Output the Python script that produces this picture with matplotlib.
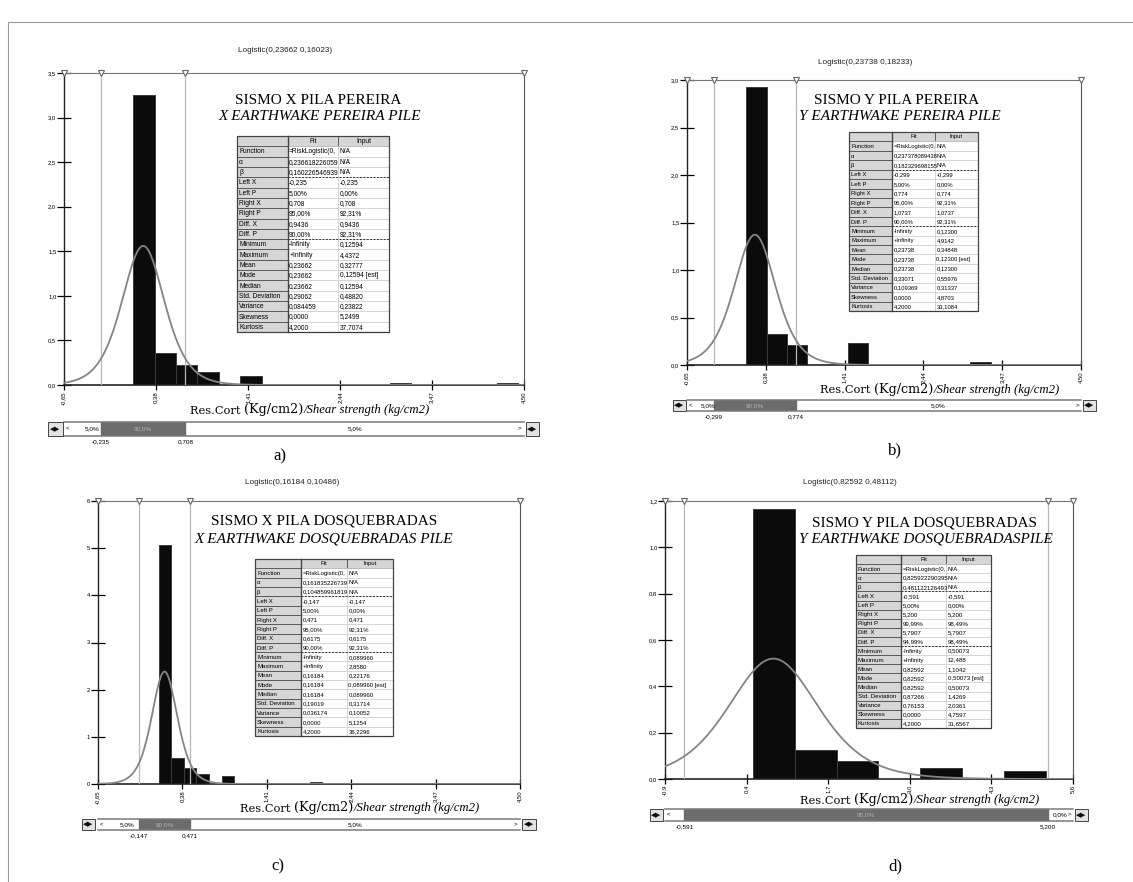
import numpy as np
import matplotlib.pyplot as plt
from matplotlib.patches import Rectangle
from matplotlib.offsetbox import TextArea, HPacker, AnnotationBbox

# ---- data ----
row_labels = ["Function", "α", "β", "Left X", "Left P", "Right X", "Right P", "Diff. X", "Diff. P",
              "Minimum", "Maximum", "Mean", "Mode", "Median", "Std. Deviation", "Variance",
              "Skewness", "Kurtosis"]

# a) sismo X pila Pereira
fit_a = (0.23662, 0.16023)
marks_a = (-0.235, 0.708)
hist_min_a, hist_max_a = 0.12594, 4.4372
heights_a = [3.25, 0.356, 0.22, 0.142, 0, 0.105, 0, 0, 0, 0, 0, 0, 0.026, 0, 0, 0, 0, 0.02]
xticks_a = [-0.65, 0.38, 1.41, 2.44, 3.47, 4.50]
xticklabels_a = ["-0,65", "0,38", "1,41", "2,44", "3,47", "4,50"]
yticks_a = [0, 0.5, 1.0, 1.5, 2.0, 2.5, 3.0, 3.5]
yticklabels_a = ["0,0", "0,5", "1,0", "1,5", "2,0", "2,5", "3,0", "3,5"]
fitcol_a = ["=RiskLogistic(0,", "0,236618226059", "0,160226546939", "-0,235", "5,00%", "0,708",
            "95,00%", "0,9436", "90,00%", "-Infinity", "+Infinity", "0,23662", "0,23662", "0,23662",
            "0,29062", "0,084459", "0,0000", "4,2000"]
inputcol_a = ["N/A", "N/A", "N/A", "-0,235", "0,00%", "0,708", "92,31%", "0,9436", "92,31%",
              "0,12594", "4,4372", "0,32777", "0,12594 [est]", "0,12594", "0,48820", "0,23822",
              "5,2499", "37,7074"]
slider_a = ["5,0%", "90,0%", "5,0%"]
marklabels_a = ["-0,235", "0,708"]

# b) sismo Y pila Pereira
fit_b = (0.23738, 0.18233)
marks_b = (-0.299, 0.774)
hist_min_b, hist_max_b = 0.12300, 4.9142
heights_b = [2.93, 0.326, 0.207, 0, 0, 0.228, 0, 0, 0, 0, 0, 0.035, 0, 0, 0, 0, 0, 0]
xticks_b = [-0.65, 0.38, 1.41, 2.44, 3.47, 4.50]
xticklabels_b = ["-0,65", "0,38", "1,41", "2,44", "3,47", "4,50"]
yticks_b = [0, 0.5, 1.0, 1.5, 2.0, 2.5, 3.0]
yticklabels_b = ["0,0", "0,5", "1,0", "1,5", "2,0", "2,5", "3,0"]
fitcol_b = ["=RiskLogistic(0,", "0,237378089438", "0,182329698155", "-0,299", "5,00%", "0,774",
            "95,00%", "1,0737", "90,00%", "-Infinity", "+Infinity", "0,23738", "0,23738", "0,23738",
            "0,33071", "0,109369", "0,0000", "4,2000"]
inputcol_b = ["N/A", "N/A", "N/A", "-0,299", "0,00%", "0,774", "92,31%", "1,0737", "92,31%",
              "0,12300", "4,9142", "0,34848", "0,12300 [est]", "0,12300", "0,55976", "0,31337",
              "4,8703", "33,1084"]
slider_b = ["5,0%", "90,0%", "5,0%"]
marklabels_b = ["-0,299", "0,774"]

# c) sismo X pila Dosquebradas
fit_c = (0.16184, 0.10486)
marks_c = (-0.147, 0.471)
hist_min_c, hist_max_c = 0.08996, 2.8580
heights_c = [5.06, 0.56, 0.34, 0.21, 0, 0.162, 0, 0, 0, 0, 0, 0, 0.05, 0, 0, 0, 0, 0.02]
xticks_c = [-0.65, 0.38, 1.41, 2.44, 3.47, 4.50]
xticklabels_c = ["-0,65", "0,38", "1,41", "2,44", "3,47", "4,50"]
yticks_c = [0, 1, 2, 3, 4, 5, 6]
yticklabels_c = ["0", "1", "2", "3", "4", "5", "6"]
fitcol_c = ["=RiskLogistic(0,", "0,161835226739", "0,104859961819", "-0,147", "5,00%", "0,471",
            "95,00%", "0,6175", "90,00%", "-Infinity", "+Infinity", "0,16184", "0,16184", "0,16184",
            "0,19019", "0,036174", "0,0000", "4,2000"]
inputcol_c = ["N/A", "N/A", "N/A", "-0,147", "0,00%", "0,471", "92,31%", "0,6175", "92,31%",
              "0,089960", "2,8580", "0,22176", "0,089960 [est]", "0,089960", "0,31714", "0,10052",
              "5,1254", "36,2296"]
slider_c = ["5,0%", "90,0%", "5,0%"]
marklabels_c = ["-0,147", "0,471"]

# d) sismo Y pila Dosquebradas (only the first 7 of 18 bins fall inside the axis)
fit_d = (0.82592, 0.48112)
marks_d = (-0.591, 5.200)
hist_min_d, hist_max_d = 0.50073, 12.488
heights_d = [1.167, 0.126, 0.079, 0, 0.049, 0.003, 0.034]
xticks_d = [-0.9, 0.4, 1.7, 3.0, 4.3, 5.6]
xticklabels_d = ["-0,9", "0,4", "1,7", "3,0", "4,3", "5,6"]
yticks_d = [0, 0.2, 0.4, 0.6, 0.8, 1.0, 1.2]
yticklabels_d = ["0,0", "0,2", "0,4", "0,6", "0,8", "1,0", "1,2"]
fitcol_d = ["=RiskLogistic(0,", "0,825922290395", "0,481122126493", "-0,591", "5,00%", "5,200",
            "99,99%", "5,7907", "94,99%", "-Infinity", "+Infinity", "0,82592", "0,82592", "0,82592",
            "0,87266", "0,76153", "0,0000", "4,2000"]
inputcol_d = ["N/A", "N/A", "N/A", "-0,591", "0,00%", "5,200", "98,49%", "5,7907", "98,49%",
              "0,50073", "12,488", "1,1042", "0,50073 [est]", "0,50073", "1,4269", "2,0361",
              "4,7597", "31,6567"]
slider_d = ["", "95,0%", "0,0%"]
marklabels_d = ["-0,591", "5,200"]


W, H = 1133, 882
fig = plt.figure(figsize=(W / 100, H / 100), dpi=100)
fig.patch.set_facecolor("white")

ov = fig.add_axes([0, 0, 1, 1], zorder=10)
ov.set_xlim(0, W)
ov.set_ylim(H, 0)
ov.axis("off")
ov.patch.set_visible(False)

SANS = "Liberation Sans"
SERIF = "Liberation Serif"


def px_axes(x0, y0, x1, y1, **kw):
    return fig.add_axes([x0 / W, 1 - y1 / H, (x1 - x0) / W, (y1 - y0) / H], **kw)


def draw_table(x0, y0, x1, y1, fitcol, inputcol, fs):
    n = len(row_labels) + 1
    rh = (y1 - y0) / n
    cw = (x1 - x0) / 3
    for c, txt in enumerate(["", "Fit", "Input"]):
        ov.add_patch(Rectangle((x0 + c * cw, y0), cw, rh, fc="#d6d6d6", ec="#555555", lw=0.6))
        ov.text(x0 + c * cw + cw / 2, y0 + rh / 2, txt, fontsize=fs, family=SANS,
                ha="center", va="center")
    for r, lab in enumerate(row_labels):
        y = y0 + (r + 1) * rh
        ov.add_patch(Rectangle((x0, y), cw, rh, fc="#d6d6d6", ec="#505050", lw=0.6))
        ov.text(x0 + 2, y + rh / 2 + 0.5, lab, fontsize=fs, family=SANS, ha="left", va="center")
        for c, txt in ((1, fitcol[r]), (2, inputcol[r])):
            cell = Rectangle((x0 + c * cw, y), cw, rh, fc="white", ec="#c4c4c4", lw=0.4)
            ov.add_patch(cell)
            t = ov.text(x0 + c * cw + 1.5, y + rh / 2 + 0.5, txt, fontsize=fs, family=SANS,
                        ha="left", va="center")
            t.set_clip_path(cell)
    for r in (4, 10, n):
        ov.plot([x0 + cw, x1], [y0 + r * rh, y0 + r * rh], color="#333333", lw=0.7,
                ls=(0, (2, 1.5)))
    ov.plot([x0 + cw, x0 + cw], [y0, y1], color="#444444", lw=1.0)
    ov.add_patch(Rectangle((x0, y0), x1 - x0, y1 - y0, fill=False, ec="#444444", lw=0.9))


def draw_icon(x0, y0, x1, y1):
    ov.add_patch(Rectangle((x0, y0), x1 - x0, y1 - y0, fc="#e2e2e2", ec="#444444", lw=0.7))
    ov.text((x0 + x1) / 2, (y0 + y1) / 2, "◀▶", fontsize=4.8, family="DejaVu Sans",
            ha="center", va="center", color="#111111")


def draw_panel(box, xlim, ymax, fit, marks, hmin, hmax, heights, xt, xtl, yt, ytl,
               title_pos, logistic_txt, head_pos, head1, head2, head_fs,
               table_box, fitcol, inputcol, table_fs,
               xlabel_pos, slider_box, slider_txt, marklabels, icon_l, icon_r,
               letter, letter_pos):
    x0, y0, x1, y1 = box
    ax = px_axes(x0, y0, x1, y1)
    ax.set_xlim(*xlim)
    ax.set_ylim(0, ymax)

    # histogram (18 equal bins between input min and max)
    bw = (hmax - hmin) / 18
    edges = hmin + bw * np.arange(len(heights))
    ax.bar(edges, heights, width=bw, align="edge", color="#0b0b0b", edgecolor="#3c3c3c",
           lw=0.7, zorder=2)

    # fitted logistic density
    a, b = fit
    xs = np.linspace(xlim[0], xlim[1], 600)
    z = np.exp(-(xs - a) / b)
    ax.plot(xs, z / (b * (1 + z) ** 2), color="#858585", lw=1.3, zorder=4)

    for v in marks:
        ax.axvline(v, color="#b8b8b8", lw=0.9, zorder=3)
    ax.plot([xlim[0], marks[0], marks[1], xlim[1]], [ymax] * 4, ls="none", marker="v", ms=5,
            mfc="white", mec="#666666", mew=0.8, clip_on=False, zorder=6)

    ax.set_xticks(xt)
    ax.set_xticklabels(xtl, rotation=90, fontsize=4.3, family=SANS)
    ax.set_yticks(yt)
    ax.set_yticklabels(ytl, fontsize=4.2, family=SANS)
    ax.tick_params(axis="x", direction="inout", length=7.5, width=0.9, pad=0.6)
    ax.tick_params(axis="y", direction="inout", length=9.5, width=0.9, pad=0.8)
    ax.spines["left"].set_color("#222222")
    ax.spines["bottom"].set_color("#222222")
    ax.spines["left"].set_linewidth(1.0)
    ax.spines["bottom"].set_linewidth(1.2)
    ax.spines["top"].set_color("#777777")
    ax.spines["right"].set_color("#555555")

    ov.text(title_pos[0], title_pos[1], logistic_txt, fontsize=5.9, family=SANS,
            ha="center", va="center", color="#222222")
    ov.text(head_pos[0], head_pos[1], head1, fontsize=head_fs, family=SERIF,
            ha="center", va="center")
    ov.text(head_pos[2], head_pos[3], head2, fontsize=head_fs, family=SERIF, style="italic",
            ha="center", va="center")

    draw_table(*table_box, fitcol, inputcol, table_fs)

    parts = [TextArea("Res.Cort ", textprops=dict(family="DejaVu Serif", size=8.2)),
             TextArea("(Kg/cm2)", textprops=dict(family="DejaVu Serif", size=9.2)),
             TextArea("/Shear strength (kg/cm2)",
                      textprops=dict(family=SERIF, style="italic", size=9.2))]
    pack = HPacker(children=parts, align="baseline", pad=0, sep=0)
    fig.add_artist(AnnotationBbox(pack, (xlabel_pos[0] / W, 1 - xlabel_pos[1] / H),
                                  xycoords="figure fraction", frameon=False,
                                  box_alignment=(0.5, 0.5)))

    # percentile slider under the plot, on the same x scale
    s = px_axes(x0, slider_box[0], x1, slider_box[1])
    s.set_xlim(*xlim)
    s.set_ylim(0, 1)
    s.set_xticks([])
    s.set_yticks([])
    for side in ("left", "right"):
        s.spines[side].set_visible(False)
    for side in ("top", "bottom"):
        s.spines[side].set_color("#7a7a7a")
        s.spines[side].set_linewidth(1.1)
    s.axvspan(marks[0], marks[1], color="#6c6c6c")
    s.text(xlim[0], 0.5, " <", fontsize=4.6, family=SANS, ha="left", va="center")
    s.text(xlim[1], 0.5, "> ", fontsize=4.6, family=SANS, ha="right", va="center")
    s.text((xlim[0] + marks[0]) / 2 + 0.02 * (xlim[1] - xlim[0]) * (slider_txt[0] != ""), 0.5,
           slider_txt[0], fontsize=4.6, family=SANS, ha="center", va="center")
    s.text((marks[0] + marks[1]) / 2, 0.5, slider_txt[1], fontsize=4.6, family=SANS,
           ha="center", va="center", color="#b4b4b4")
    s.text((marks[1] + xlim[1]) / 2, 0.5, slider_txt[2], fontsize=4.6, family=SANS,
           ha="center", va="center")
    for v, lab in zip(marks, marklabels):
        s.annotate(lab, (v, 0), xytext=(0, -4.2), textcoords="offset points", fontsize=4.6,
                   family=SANS, ha="center", va="center", annotation_clip=False)

    draw_icon(*icon_l)
    draw_icon(*icon_r)
    ov.text(letter_pos[0], letter_pos[1], letter, fontsize=12, family=SERIF,
            ha="center", va="center")


draw_panel((64, 73, 524, 385), (-0.65, 4.50), 3.5, fit_a, marks_a, hist_min_a, hist_max_a,
           heights_a, xticks_a, xticklabels_a, yticks_a, yticklabels_a,
           (285, 51), "Logistic(0,23662 0,16023)",
           (318, 100, 320, 117), "SISMO X PILA PEREIRA", "X EARTHWAKE PEREIRA PILE", 11,
           (237, 136, 389, 332), fitcol_a, inputcol_a, 4.8,
           (310, 410), (422, 436), slider_a, marklabels_a,
           (48, 422, 63, 436), (526, 422, 539, 436), "a)", (280, 456))

draw_panel((687, 80, 1081, 365), (-0.65, 4.50), 3.0, fit_b, marks_b, hist_min_b, hist_max_b,
           heights_b, xticks_b, xticklabels_b, yticks_b, yticklabels_b,
           (865, 62), "Logistic(0,23738 0,18233)",
           (897, 101, 900, 117), "SISMO Y PILA PEREIRA", "Y EARTHWAKE PEREIRA PILE", 11,
           (849, 132, 978, 311), fitcol_b, inputcol_b, 4.2,
           (940, 389), (400, 411), slider_b, marklabels_b,
           (673, 400, 686, 411), (1083, 400, 1096, 411), "b)", (895, 450))

draw_panel((98, 501, 520, 784), (-0.65, 4.50), 6, fit_c, marks_c, hist_min_c, hist_max_c,
           heights_c, xticks_c, xticklabels_c, yticks_c, yticklabels_c,
           (292, 482), "Logistic(0,16184 0,10486)",
           (324, 521, 324, 539), "SISMO X PILA DOSQUEBRADAS", "X EARTHWAKE DOSQUEBRADAS PILE", 11,
           (255, 559, 393, 736), fitcol_c, inputcol_c, 4.3,
           (360, 808), (819, 830), slider_c, marklabels_c,
           (82, 819, 95, 830), (522, 819, 536, 830), "c)", (278, 866))

draw_panel((665, 501, 1073, 779), (-0.9, 5.6), 1.2, fit_d, marks_d, hist_min_d, hist_max_d,
           heights_d, xticks_d, xticklabels_d, yticks_d, yticklabels_d,
           (850, 483), "Logistic(0,82592 0,48112)",
           (924, 523, 926, 539), "SISMO Y PILA DOSQUEBRADAS", "Y EARTHWAKE DOSQUEBRADASPILE", 11,
           (856, 555, 991, 728), fitcol_d, inputcol_d, 4.4,
           (920, 800), (809, 821), slider_d, marklabels_d,
           (650, 809, 663, 821), (1075, 809, 1088, 821), "d)", (895, 866))

# thin frame of the scanned page
ov.plot([8, W], [22, 22], color="#9a9a9a", lw=0.8)
ov.plot([8, 8], [22, H], color="#9a9a9a", lw=0.8)

fig.savefig("out.png", dpi=100)
